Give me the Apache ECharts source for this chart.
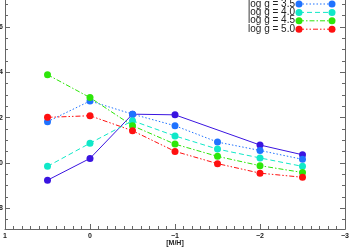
<!DOCTYPE html>
<html>
<head>
<meta charset="utf-8">
<script src="https://cdn.jsdelivr.net/npm/echarts@6/dist/echarts.min.js"></script>
<style>html,body{margin:0;padding:0;background:#fff}#c{width:350px;height:249px}</style>
</head>
<body>
<div id="c"></div>
<script>
// ---- data ----
const metallicity = [0.5, 0, -0.5, -1, -1.5, -2, -2.5];
const logg30 = [0.924, 1.020, 1.215, 1.212, null, 1.079, 1.036];
const logg35 = [1.182, 1.273, 1.215, 1.164, 1.092, 1.055, 1.016];
const logg40 = [0.985, 1.087, 1.186, 1.119, 1.061, 1.022, 0.985];
const logg45 = [1.389, 1.288, 1.164, 1.083, 1.029, 0.988, 0.958];
const logg50 = [1.201, 1.208, 1.142, 1.051, 0.997, 0.955, 0.937];
const seriesNames = ['log g = 3.0', 'log g = 3.5', 'log g = 4.0', 'log g = 4.5', 'log g = 5.0'];
const yMajorTicks = [0.8, 1.0, 1.2, 1.4, 1.6];
const yMinorTicks = [0.75, 0.85, 0.9, 0.95, 1.05, 1.1, 1.15, 1.25, 1.3, 1.35, 1.45, 1.5, 1.55, 1.65, 1.7];
const xTicks = [1, 0, -1, -2, -3];

// ---- styles ----
const colors = ['#3a14e0', '#1f72ff', '#10e8c8', '#2ee60a', '#ff1010'];
const dashes = ['solid', [1.5, 2], [5, 3], [5, 2, 1.5, 2], [5, 2, 1.5, 2, 1.5, 2]];
const values = [logg30, logg35, logg40, logg45, logg50];

const chart = echarts.init(document.getElementById('c'), null, {renderer: 'canvas'});
const fmt = v => String(v).replace('-', '\u2212');
const axisFont = {fontSize: 7, fontWeight: 'bold', color: '#222', fontFamily: 'Liberation Sans'};
const yMin = 0.709, yMax = 1.718;

function yAxisDef(pos, ticks, len, showLabel) {
  return {
    type: 'value', position: pos, min: yMin, max: yMax,
    axisLine: {show: true, onZero: false, lineStyle: {color: '#666', width: 1}},
    axisTick: {show: true, inside: true, length: len, customValues: ticks, lineStyle: {color: '#666'}},
    axisLabel: {show: showLabel, customValues: ticks, margin: 2, formatter: v => v.toFixed(1), ...axisFont},
    splitLine: {show: false}
  };
}

const option = {
  animation: false,
  grid: {left: 5, right: 5, top: 0, bottom: 20, containLabel: false, outerBoundsMode: 'none'},
  xAxis: [{
    type: 'value', min: -3, max: 1, interval: 1, inverse: true,
    name: '[M/H]', nameLocation: 'middle', nameGap: 11, nameMoveOverlap: false,
    nameTextStyle: {fontSize: 7, fontWeight: 'bold', color: '#222', fontFamily: 'Liberation Sans'},
    axisLine: {show: true, onZero: false, lineStyle: {color: '#666', width: 1}},
    axisTick: {show: true, inside: true, length: 5, customValues: xTicks, lineStyle: {color: '#666'}},
    minorTick: {show: true, splitNumber: 10, length: 3, lineStyle: {color: '#666'}},
    axisLabel: {margin: 4, formatter: fmt, customValues: xTicks, ...axisFont},
    splitLine: {show: false}
  }],
  yAxis: [
    yAxisDef('left', yMajorTicks, 5, true),
    yAxisDef('left', yMinorTicks, 3, false),
    yAxisDef('right', yMajorTicks, 5, false),
    yAxisDef('right', yMinorTicks, 3, false)
  ],
  series: values.map((arr, i) => ({
    name: seriesNames[i], type: 'line',
    data: metallicity.map((x, j) => [x, arr[j]]),
    connectNulls: true,
    symbol: 'circle', symbolSize: 7,
    itemStyle: {color: colors[i]},
    lineStyle: {color: colors[i], width: 1, type: dashes[i]},
    z: 2 + i
  }))
};

// legend drawn from the series definitions (entries 3.5..5.0 are visible, 3.0 lies above the frame)
const graphics = [];
const legY0 = -4.4, legStep = 8.4;
seriesNames.forEach((n, i) => {
  const y = legY0 + legStep * i;
  graphics.push({type: 'text', right: 350 - 295, top: y - 5.2, z: 100,
    style: {text: n, fontSize: 10, fontFamily: 'Liberation Sans', fill: '#222', align: 'right'}});
  graphics.push({type: 'line', z: 100, shape: {x1: 299, y1: y, x2: 332, y2: y},
    style: {stroke: colors[i], lineWidth: 1, lineDash: dashes[i] === 'solid' ? null : dashes[i]}});
  graphics.push({type: 'circle', z: 101, shape: {cx: 299, cy: y, r: 3.5}, style: {fill: colors[i]}});
  graphics.push({type: 'circle', z: 101, shape: {cx: 332, cy: y, r: 3.5}, style: {fill: colors[i]}});
});
option.graphic = graphics;
chart.setOption(option);
</script>
</body>
</html>
